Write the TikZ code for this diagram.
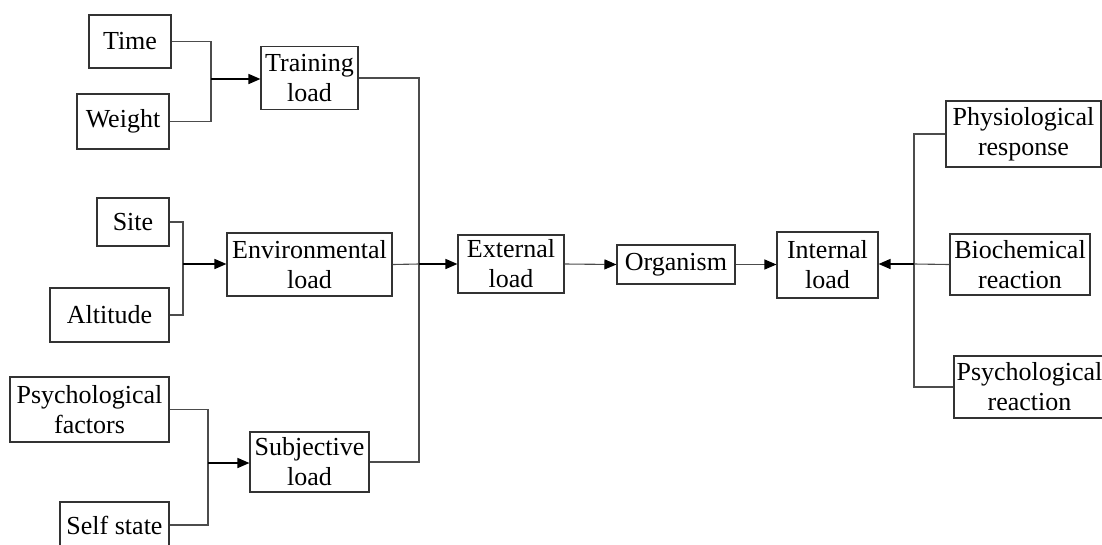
\documentclass[tikz,border=0pt]{standalone}
\usepackage{fontspec}
\setmainfont{Liberation Serif}
\usetikzlibrary{arrows.meta}
\begin{document}
\begin{tikzpicture}[x=1pt,y=-1pt,
  box/.style={draw=black!80, line width=1.1pt, inner sep=0pt, align=center,
    font=\fontsize{26}{30}\selectfont},
  link/.style={draw=black!70, line width=1.1pt},
  feed/.style={draw=black, line width=1.5pt, -{Triangle[length=12pt,width=10pt]}},
  pass/.style={draw=black!70, line width=1.1pt, -{Triangle[length=12pt,width=10pt,fill=black,color=black]}}]
\clip (0,0) rectangle (1102,544);
% input factors
\node[box, minimum width=82pt, minimum height=53pt]  (time)   at (130,41.5)  {Time};
\node[box, minimum width=92pt, minimum height=55pt]  (weight) at (123,121.5) {Weight};
\node[box, minimum width=72pt, minimum height=48pt]  (site)   at (133,222)   {Site};
\node[box, minimum width=119pt, minimum height=54pt] (alt)    at (109.5,315) {Altitude};
\node[box, minimum width=159pt, minimum height=65pt] (psyf)   at (89.5,409.5) {Psychological\\factors};
\node[box, minimum width=109pt, minimum height=46pt] (self)   at (114.5,525) {Self state};
% load types
\node[box, minimum width=97pt, minimum height=63pt]  (train) at (309.5,78)    {Training\\load};
\node[box, minimum width=165pt, minimum height=63pt] (env)   at (309.5,264.5) {Environmental\\load};
\node[box, minimum width=119pt, minimum height=60pt] (subj)  at (309.5,462)   {Subjective\\load};
% main chain
\node[box, minimum width=106pt, minimum height=58pt] (ext) at (511,264)   {External\\load};
\node[box, minimum width=118pt, minimum height=39pt] (org) at (676,264.5) {Organism};
\node[box, minimum width=101pt, minimum height=66pt] (int) at (827.5,265) {Internal\\load};
% responses
\node[box, minimum width=155pt, minimum height=66pt] (phys) at (1023.5,134) {Physiological\\response};
\node[box, minimum width=140pt, minimum height=61pt] (bio)  at (1020,264.5) {Biochemical\\reaction};
\node[box, minimum width=151pt, minimum height=62pt] (psyr) at (1029.5,387) {Psychological\\reaction};
% junctions
\coordinate (j1) at (211,79);
\coordinate (j2) at (183,264);
\coordinate (j3) at (208,463);
\coordinate (bus) at (419,264);
\coordinate (j4) at (914,264);
% training load inputs
\draw[link] (time.east) -| (j1);
\draw[link] (weight.east) -| (j1);
\draw[feed] (j1) -- (j1 -| train.west);
% environmental load inputs
\draw[link] (site.east) -| (j2);
\draw[link] (alt.east) -| (j2);
\draw[feed] (j2) -- (j2 -| env.west);
% subjective load inputs
\draw[link] (psyf.east) -| (j3);
\draw[link] (self.east) -| (j3);
\draw[feed] (j3) -- (j3 -| subj.west);
% bus into external load
\draw[link] (train.east) -| (bus);
\draw[link] (subj.east) -| (bus);
\draw[link] (env.east) -- (bus);
\draw[feed] (bus) -- (ext.west);
% chain
\draw[pass] (ext.east) -- (org.west);
\draw[pass] (org.east) -- (org.east -| int.west);
% responses into internal load
\draw[link] (phys.west) -| (j4);
\draw[link] (psyr.west) -| (j4);
\draw[link] (bio.west) -- (j4);
\draw[feed] (j4) -- (j4 -| int.east);
\end{tikzpicture}
\end{document}
